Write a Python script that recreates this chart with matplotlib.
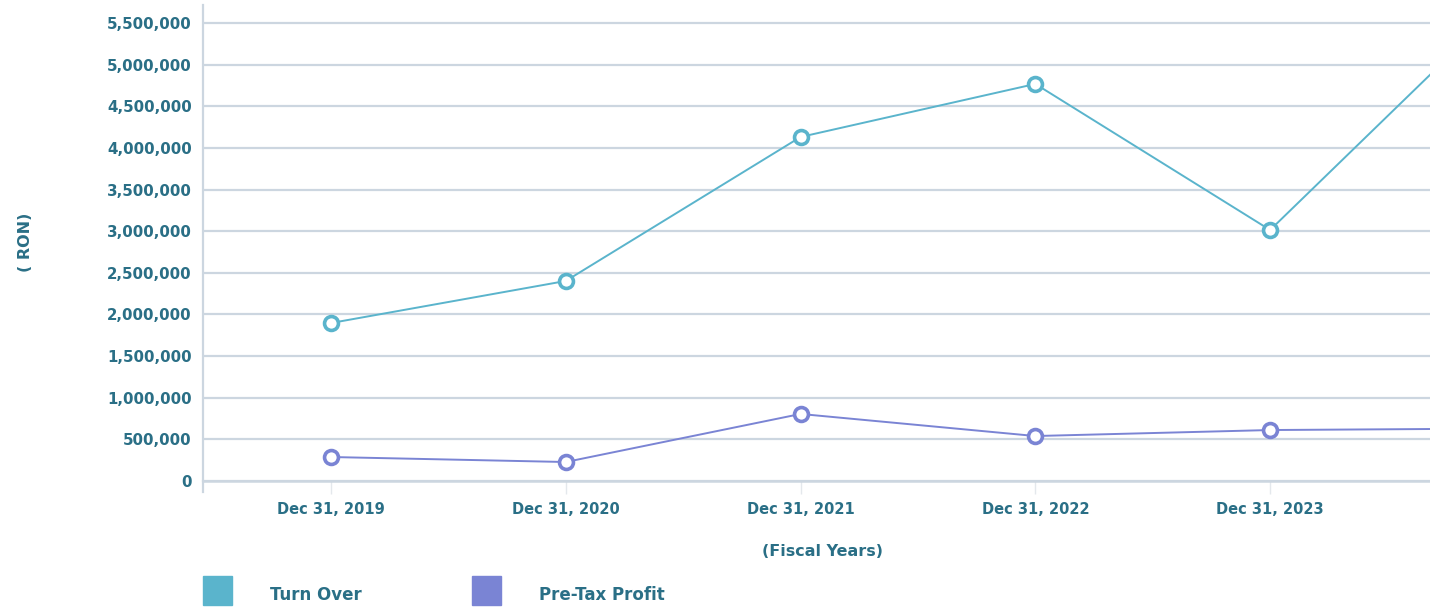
import matplotlib
matplotlib.use("Agg")
import matplotlib.pyplot as plt
from matplotlib.patches import Rectangle
from matplotlib.lines import Line2D
from matplotlib.ticker import FuncFormatter

# data (last year is cut off at the right edge)
years = ["Dec 31, 2019", "Dec 31, 2020", "Dec 31, 2021", "Dec 31, 2022", "Dec 31, 2023", "Dec 31, 2024"]
turn_over = [1897000, 2402000, 4131000, 4768000, 3014000, 5750000]
pre_tax_profit = [288000, 228000, 805000, 540000, 612000, 630000]
y_ticks = [0, 500000, 1000000, 1500000, 2000000, 2500000, 3000000, 3500000,
           4000000, 4500000, 5000000, 5500000]

txt_col = "#2a6f86"
grid_col = "#ccd6e0"
c_turn = "#5ab4cc"
c_profit = "#7a84d4"

plt.rcParams['font.family'] = ['DejaVu Sans']
fig = plt.figure(figsize=(14.3, 6.08), dpi=100)
ax = fig.add_axes([203 / 1430, (608 - 481) / 608, 1 - 203 / 1430, 476 / 608])

x = list(range(len(years)))
ax.plot(x, turn_over, color=c_turn, lw=1.4, marker='o', ms=10, mfc='white',
        mec=c_turn, mew=2.6, zorder=3)
ax.plot(x, pre_tax_profit, color=c_profit, lw=1.4, marker='o', ms=10, mfc='white',
        mec=c_profit, mew=2.6, zorder=3)

ax.set_xlim(-0.545, 4.681)
ax.set_ylim(0, 5716000)
ax.set_yticks(y_ticks)
ax.yaxis.set_major_formatter(FuncFormatter(lambda v, p: f"{int(v):,}"))
ax.set_xticks(x[:5])
ax.set_xticklabels(years[:5])
ax.grid(axis='y', color=grid_col, lw=1.6)
ax.axhline(0, color=grid_col, lw=1.8, clip_on=False, zorder=1)
ax.set_axisbelow(True)
for s in ['top', 'right', 'bottom']:
    ax.spines[s].set_visible(False)
ax.spines['left'].set_color(grid_col)
ax.spines['left'].set_linewidth(1.6)
ax.add_line(Line2D([0, 0], [-0.023, 0], transform=ax.transAxes, color=grid_col,
                   lw=1.6, clip_on=False))
ax.tick_params(axis='y', length=0, pad=8, labelsize=10.8, labelcolor=txt_col)
ax.tick_params(axis='x', length=9, width=1, color="#e4e8ec", pad=6,
               labelsize=10.5, labelcolor=txt_col)
for lab in ax.get_xticklabels() + ax.get_yticklabels():
    lab.set_fontweight('bold')

fig.text(25 / 1430, 1 - 242 / 608, "( RON)", rotation=90, ha='center', va='center',
         fontsize=11.5, fontweight='bold', color=txt_col)
fig.text(823 / 1430, 1 - 551 / 608, "(Fiscal Years)", ha='center', va='center',
         fontsize=11.5, fontweight='bold', color=txt_col)

# legend
legend_items = [("Turn Over", c_turn, 203, 270), ("Pre-Tax Profit", c_profit, 472, 539)]
for name, col, sx, tx in legend_items:
    fig.patches.append(Rectangle((sx / 1430, 1 - 605 / 608), 29 / 1430, 29 / 608,
                                 transform=fig.transFigure, color=col))
    fig.text(tx / 1430, 1 - 595 / 608, name, ha='left', va='center',
             fontsize=12, fontweight='bold', color=txt_col)

fig.savefig("out.png", dpi=100)
